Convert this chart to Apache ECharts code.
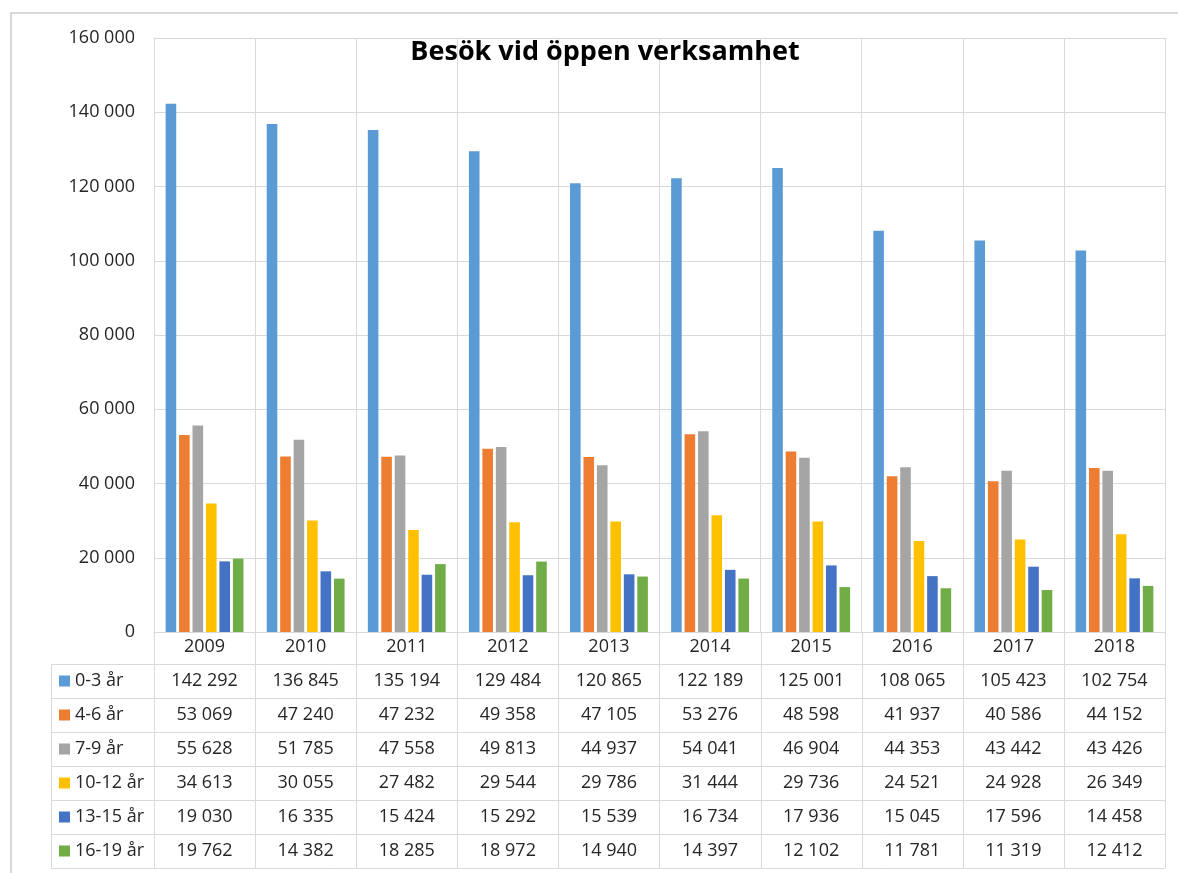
<!DOCTYPE html>
<html>
<head>
<meta charset="utf-8">
<script src="https://cdn.jsdelivr.net/npm/echarts@6/dist/echarts.min.js"></script>
<style>
  html, body { margin: 0; padding: 0; background: #fff; }
  #chart { width: 1178px; height: 873px; }
</style>
</head>
<body>
<div id="chart"></div>
<script>
const years = ["2009", "2010", "2011", "2012", "2013", "2014", "2015", "2016", "2017", "2018"];
const groups = ["0-3 år", "4-6 år", "7-9 år", "10-12 år", "13-15 år", "16-19 år"];
const colors = ["#5b9bd5", "#ed7d31", "#a5a5a5", "#ffc000", "#4472c4", "#70ad47"];
const age0_3 = [142292, 136845, 135194, 129484, 120865, 122189, 125001, 108065, 105423, 102754];
const age4_6 = [53069, 47240, 47232, 49358, 47105, 53276, 48598, 41937, 40586, 44152];
const age7_9 = [55628, 51785, 47558, 49813, 44937, 54041, 46904, 44353, 43442, 43426];
const age10_12 = [34613, 30055, 27482, 29544, 29786, 31444, 29736, 24521, 24928, 26349];
const age13_15 = [19030, 16335, 15424, 15292, 15539, 16734, 17936, 15045, 17596, 14458];
const age16_19 = [19762, 14382, 18285, 18972, 14940, 14397, 12102, 11781, 11319, 12412];
const seriesData = [age0_3, age4_6, age7_9, age10_12, age13_15, age16_19];

const FONT = "'Open Sans', 'Liberation Sans', sans-serif";
const GRID = "#d9d9d9";
const TEXT = "#262626";

// thousands with space, e.g. 142 292
function fmt(v) {
  return String(v).replace(/\B(?=(\d{3})+(?!\d))/g, " ");
}

const chart = echarts.init(document.getElementById("chart"));

chart.setOption({
  animation: false,
  color: colors,
  title: {
    text: "Besök vid öppen verksamhet",
    left: 600,
    top: 34,
    textAlign: "center",
    textStyle: { fontFamily: FONT, fontSize: 27, fontWeight: "bold", color: "#000" }
  },
  grid: { left: 154, right: 13, top: 38, bottom: 241, containLabel: false },
  xAxis: {
    type: "category",
    data: years,
    axisTick: { show: false },
    axisLine: { lineStyle: { color: GRID, width: 1 } },
    splitLine: { show: true, lineStyle: { color: GRID, width: 1 } },
    axisLabel: { margin: 6, color: TEXT, fontFamily: FONT, fontSize: 18 }
  },
  yAxis: {
    type: "value",
    min: 0,
    max: 160000,
    interval: 20000,
    axisLine: { show: true, lineStyle: { color: GRID, width: 1 } },
    splitLine: { lineStyle: { color: GRID, width: 1 } },
    axisLabel: {
      margin: 19,
      color: TEXT,
      fontFamily: FONT,
      fontSize: 18,
      formatter: v => fmt(v)
    }
  },
  series: groups.map((g, i) => ({
    name: g,
    type: "bar",
    data: seriesData[i],
    barGap: "27%",
    barCategoryGap: "23%",
    itemStyle: { color: colors[i] }
  }))
});

// data table under the plot
function buildTable() {
  const c0 = chart.convertToPixel({ xAxisIndex: 0 }, years[0]);
  const c1 = chart.convertToPixel({ xAxisIndex: 0 }, years[1]);
  const step = c1 - c0;
  const plotLeft = c0 - step / 2;
  const plotRight = plotLeft + step * years.length;
  const axisY = chart.convertToPixel({ yAxisIndex: 0 }, 0);
  const headH = 32;
  const rowH = 34;
  const tableTop = axisY + headH;
  const tableBottom = tableTop + rowH * groups.length;
  const labelLeft = 51;
  const els = [];
  const line = (x1, y1, x2, y2) => els.push({
    type: "line",
    shape: { x1, y1, x2, y2 },
    style: { stroke: GRID, lineWidth: 1 },
    silent: true
  });

  // outer chart frame
  els.push({
    type: "rect",
    shape: { x: 11, y: 13, width: 1200, height: 900 },
    style: { fill: null, stroke: GRID, lineWidth: 2 },
    silent: true
  });

  // vertical lines
  for (let i = 0; i <= years.length; i++) {
    const x = Math.round(plotLeft + step * i) + 0.5;
    line(x, axisY, x, tableBottom);
  }
  line(labelLeft + 0.5, tableTop, labelLeft + 0.5, tableBottom);
  // horizontal lines
  for (let r = 0; r <= groups.length; r++) {
    const y = Math.round(tableTop + rowH * r) + 0.5;
    line(labelLeft, y, plotRight, y);
  }

  groups.forEach((g, r) => {
    const cy = tableTop + rowH * r + rowH / 2;
    els.push({
      type: "rect",
      shape: { x: 59, y: cy - 5.5, width: 11, height: 11 },
      style: { fill: colors[r] },
      silent: true
    });
    els.push({
      type: "text",
      x: 75, y: cy,
      style: { text: g, fill: TEXT, font: "18px " + FONT, textVerticalAlign: "middle" },
      silent: true
    });
    seriesData[r].forEach((v, k) => {
      els.push({
        type: "text",
        x: c0 + step * k, y: cy,
        style: {
          text: fmt(v), fill: TEXT, font: "18px " + FONT,
          textAlign: "center", textVerticalAlign: "middle"
        },
        silent: true
      });
    });
  });

  chart.setOption({ graphic: els });
}
buildTable();
</script>
</body>
</html>
